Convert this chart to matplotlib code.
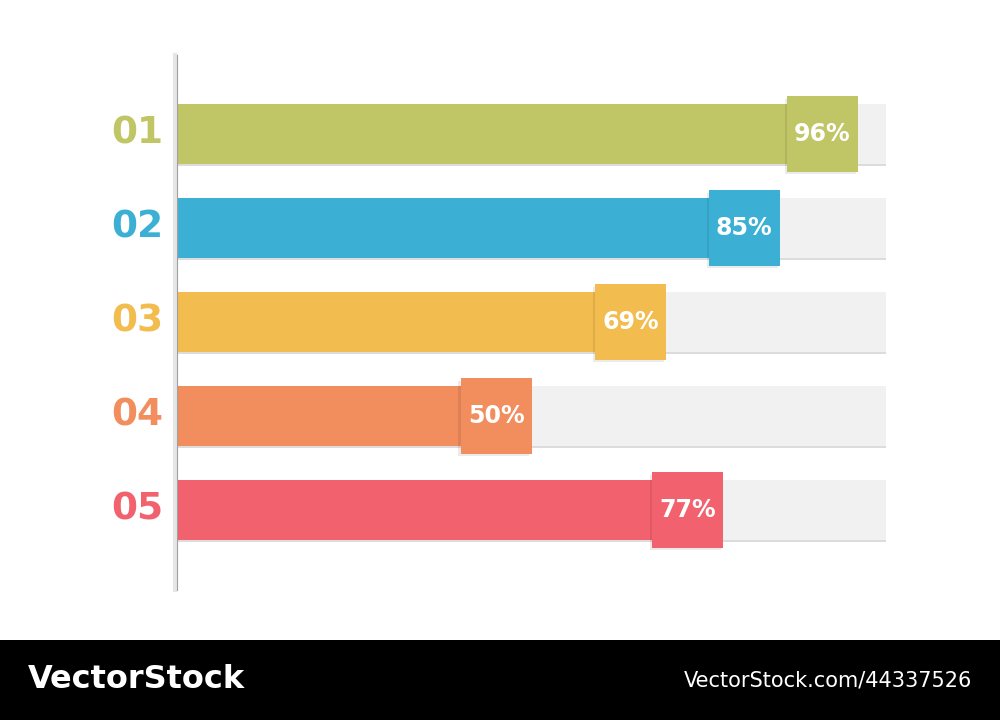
import matplotlib.pyplot as plt
from matplotlib.patches import Rectangle
from matplotlib.lines import Line2D

labels = ["01", "02", "03", "04", "05"]
values = [96, 85, 69, 50, 77]
colors = ["#C0C565", "#3BB0D4", "#F2BC4E", "#F28D5E", "#F2616E"]

fig = plt.figure(figsize=(10, 7.2), dpi=100)
fig.patch.set_facecolor("white")
ax = fig.add_axes([0.177, 1 - 557 / 720, 0.709, 470 / 720])
ax.set_xlim(0, 100)
ax.set_ylim(4.5, -0.5)
ax.axis("off")

for i, (lab, v, c) in enumerate(zip(labels, values, colors)):
    # shadow + background track
    ax.barh(i + 0.03, 100, height=0.63, color="#DCDCDC", zorder=1)
    ax.barh(i, 100, height=0.63, color="#F1F1F1", zorder=2)
    ax.barh(i, v, height=0.63, color=c, zorder=3)
    # value tag
    ax.add_patch(Rectangle((v - 10, i - 0.4), 10, 0.8, facecolor=c,
                           edgecolor="none", zorder=4, clip_on=False))
    ax.add_patch(Rectangle((v - 10.3, i - 0.37), 10, 0.8, facecolor="#000000",
                           alpha=0.08, edgecolor="none", zorder=3.5, clip_on=False))
    ax.text(v - 5, i, f"{v}%", color="white", fontsize=17, fontweight="bold",
            family="DejaVu Sans", ha="center", va="center", zorder=5)
    ax.text(-5.6, i, lab, color=c, fontsize=27, fontweight="bold",
            family="DejaVu Sans", ha="center", va="center", clip_on=False)

# thin divider at the left edge
fig.add_artist(Line2D([0.175, 0.175], [1 - 590 / 720, 1 - 55 / 720],
                      color="#E6E6E6", lw=3))
fig.add_artist(Line2D([0.177, 0.177], [1 - 590 / 720, 1 - 55 / 720],
                      color="#A0A0A0", lw=0.8))

# bottom banner
fig.add_artist(Rectangle((0, 0), 1, 80 / 720, facecolor="black",
                         transform=fig.transFigure))
fig.text(0.028, 40 / 720, "VectorStock", color="white", fontsize=23,
         fontweight="bold", va="center", ha="left", family="DejaVu Sans")
fig.text(0.972, 40 / 720, "VectorStock.com/44337526", color="white",
         fontsize=15, va="center", ha="right", family="DejaVu Sans")

fig.savefig("out.png", dpi=100)
